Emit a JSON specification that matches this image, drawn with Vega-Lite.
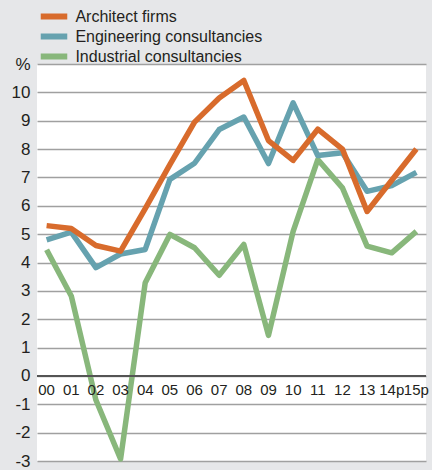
{
  "$schema": "https://vega.github.io/schema/vega-lite/v6.json",
  "width": 389,
  "height": 397,
  "autosize": {"type": "none"},
  "padding": {"left": 37, "top": 64, "right": 6, "bottom": 9},
  "background": "#e6e7e9",
  "config": {"view": {"fill": "white", "stroke": null}, "font": "Liberation Sans", "axis": {"labelOverlap": false}},
  "data": {"values": [
    {"year": "00", "series": "Architect firms", "value": 5.3},
    {"year": "01", "series": "Architect firms", "value": 5.2},
    {"year": "02", "series": "Architect firms", "value": 4.6},
    {"year": "03", "series": "Architect firms", "value": 4.4},
    {"year": "04", "series": "Architect firms", "value": 5.9},
    {"year": "05", "series": "Architect firms", "value": 7.45},
    {"year": "06", "series": "Architect firms", "value": 8.95},
    {"year": "07", "series": "Architect firms", "value": 9.8},
    {"year": "08", "series": "Architect firms", "value": 10.42},
    {"year": "09", "series": "Architect firms", "value": 8.3},
    {"year": "10", "series": "Architect firms", "value": 7.6},
    {"year": "11", "series": "Architect firms", "value": 8.7},
    {"year": "12", "series": "Architect firms", "value": 8.0},
    {"year": "13", "series": "Architect firms", "value": 5.8},
    {"year": "14p", "series": "Architect firms", "value": 6.9},
    {"year": "15p", "series": "Architect firms", "value": 8.0},
    {"year": "00", "series": "Engineering consultancies", "value": 4.8},
    {"year": "01", "series": "Engineering consultancies", "value": 5.07},
    {"year": "02", "series": "Engineering consultancies", "value": 3.82},
    {"year": "03", "series": "Engineering consultancies", "value": 4.3},
    {"year": "04", "series": "Engineering consultancies", "value": 4.46},
    {"year": "05", "series": "Engineering consultancies", "value": 6.93},
    {"year": "06", "series": "Engineering consultancies", "value": 7.5},
    {"year": "07", "series": "Engineering consultancies", "value": 8.69},
    {"year": "08", "series": "Engineering consultancies", "value": 9.13},
    {"year": "09", "series": "Engineering consultancies", "value": 7.49},
    {"year": "10", "series": "Engineering consultancies", "value": 9.63},
    {"year": "11", "series": "Engineering consultancies", "value": 7.77},
    {"year": "12", "series": "Engineering consultancies", "value": 7.87},
    {"year": "13", "series": "Engineering consultancies", "value": 6.51},
    {"year": "14p", "series": "Engineering consultancies", "value": 6.71},
    {"year": "15p", "series": "Engineering consultancies", "value": 7.18},
    {"year": "00", "series": "Industrial consultancies", "value": 4.45},
    {"year": "01", "series": "Industrial consultancies", "value": 2.82},
    {"year": "02", "series": "Industrial consultancies", "value": -0.85},
    {"year": "03", "series": "Industrial consultancies", "value": -2.93},
    {"year": "04", "series": "Industrial consultancies", "value": 3.29},
    {"year": "05", "series": "Industrial consultancies", "value": 4.99},
    {"year": "06", "series": "Industrial consultancies", "value": 4.52},
    {"year": "07", "series": "Industrial consultancies", "value": 3.55},
    {"year": "08", "series": "Industrial consultancies", "value": 4.64},
    {"year": "09", "series": "Industrial consultancies", "value": 1.43},
    {"year": "10", "series": "Industrial consultancies", "value": 5.1},
    {"year": "11", "series": "Industrial consultancies", "value": 7.63},
    {"year": "12", "series": "Industrial consultancies", "value": 6.63},
    {"year": "13", "series": "Industrial consultancies", "value": 4.58},
    {"year": "14p", "series": "Industrial consultancies", "value": 4.34},
    {"year": "15p", "series": "Industrial consultancies", "value": 5.1}
  ]},
  "encoding": {
    "x": {"field": "year", "type": "ordinal", "sort": null, "scale": {"type": "point", "padding": 0.39}, "axis": null},
    "y": {"field": "value", "type": "quantitative",
      "scale": {"domain": [-3, 11], "nice": false, "zero": false},
      "axis": {"title": null, "values": [-3, -2, -1, 0, 1, 2, 3, 4, 5, 6, 7, 8, 9, 10, 11],
        "labelExpr": "datum.value == 11 ? '%' : '' + datum.value",
        "labelOverlap": false, "labelSeparation": 0,
        "grid": true, "gridColor": "#a0a0a0", "gridWidth": 1.3, "domain": false, "ticks": false,
        "labelFontSize": 17, "labelColor": "#231f20", "labelPadding": 7}}
  },
  "layer": [
    {
      "transform": [{"filter": "datum.series === 'Industrial consultancies'"}],
      "mark": {"type": "line", "strokeWidth": 5.5, "strokeJoin": "round"},
      "encoding": {
        "color": {"field": "series", "type": "nominal",
          "scale": {"domain": ["Architect firms", "Engineering consultancies", "Industrial consultancies"], "range": ["#d86b2c", "#66a2af", "#88b77b"]},
          "legend": {"orient": "none", "legendX": 9, "legendY": -55.5, "title": null, "symbolType": "M-4,0H4", "symbolSize": 44, "symbolStrokeWidth": 6, "labelFontSize": 16, "labelColor": "#231f20", "rowPadding": -8, "labelOffset": 13.4, "labelLimit": 400}}
      }
    },
    {
      "transform": [{"filter": "datum.series === 'Engineering consultancies'"}],
      "mark": {"type": "line", "strokeWidth": 5.5, "strokeJoin": "round"},
      "encoding": {
        "color": {"field": "series", "type": "nominal"}
      }
    },
    {
      "transform": [{"filter": "datum.series === 'Architect firms'"}],
      "mark": {"type": "line", "strokeWidth": 5.5, "strokeJoin": "round"},
      "encoding": {
        "color": {"field": "series", "type": "nominal"}
      }
    },
    {
      "mark": {"type": "rule", "color": "#555555", "strokeWidth": 1.5},
      "encoding": {
        "y": {"datum": 0, "type": "quantitative",
          "axis": {"title": null, "values": [-3, -2, -1, 0, 1, 2, 3, 4, 5, 6, 7, 8, 9, 10, 11],
            "labelExpr": "datum.value == 11 ? '%' : '' + datum.value",
            "labelOverlap": false, "labelSeparation": 0,
            "grid": true, "gridColor": "#a0a0a0", "gridWidth": 1.3, "domain": false, "ticks": false,
            "labelFontSize": 17, "labelColor": "#231f20", "labelPadding": 7}},
        "x": {"value": 0}, "x2": {"value": 389}}
    },
    {
      "transform": [{"filter": "datum.series === 'Architect firms'"}],
      "mark": {"type": "text", "dy": 14, "fontSize": 15, "color": "#231f20"},
      "encoding": {
        "y": {"datum": 0, "type": "quantitative",
          "axis": {"title": null, "values": [-3, -2, -1, 0, 1, 2, 3, 4, 5, 6, 7, 8, 9, 10, 11],
            "labelExpr": "datum.value == 11 ? '%' : '' + datum.value",
            "labelOverlap": false, "labelSeparation": 0,
            "grid": true, "gridColor": "#a0a0a0", "gridWidth": 1.3, "domain": false, "ticks": false,
            "labelFontSize": 17, "labelColor": "#231f20", "labelPadding": 7}},
        "text": {"field": "year"}
      }
    }
  ]
}
